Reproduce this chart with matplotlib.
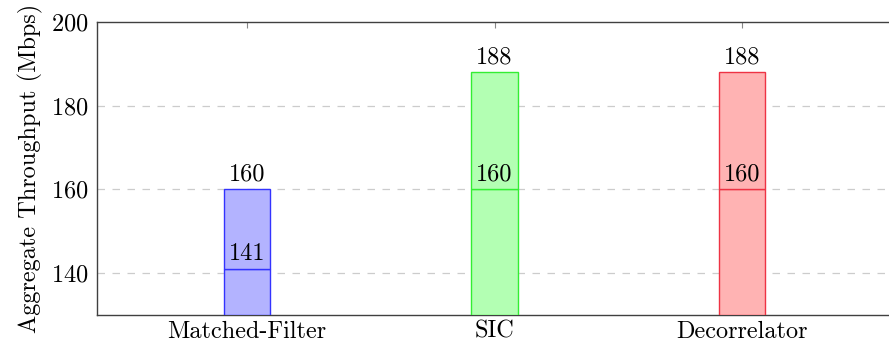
import matplotlib
matplotlib.use("Agg")
import matplotlib.pyplot as plt
import numpy as np

# Aggregate throughput per receiver: value at the inner mark and the bar total
categories = ["Matched-Filter", "SIC", "Decorrelator"]
base_values = [141, 160, 160]
total_values = [160, 188, 188]
fill_colors = ["#b3b3ff", "#b3ffb3", "#ffb3b3"]
edge_colors = ["#3333ff", "#33ee33", "#ee3344"]
y_ticks = [140, 160, 180, 200]

plt.rcParams["font.family"] = ["cmr10", "DejaVu Serif"]
plt.rcParams["axes.formatter.use_mathtext"] = True

FS = 17.5

fig = plt.figure(figsize=(8.89, 3.44), dpi=100)
ax = fig.add_axes([97 / 889, 1 - 315 / 344, (892 - 97) / 889, (315 - 22) / 344])

x = np.arange(len(categories))
width = 0.186
ymin = 130

for i in range(len(categories)):
    ax.bar(x[i], base_values[i] - ymin, bottom=ymin, width=width,
           color=fill_colors[i], edgecolor=edge_colors[i], linewidth=1.0, zorder=3)
    ax.bar(x[i], total_values[i] - base_values[i], bottom=base_values[i], width=width,
           color=fill_colors[i], edgecolor=edge_colors[i], linewidth=1.0, zorder=3)
    ax.annotate(str(base_values[i]), (x[i], base_values[i]), xytext=(0, 2.5),
                textcoords="offset points", ha="center", va="bottom", fontsize=FS, zorder=4)
    ax.annotate(str(total_values[i]), (x[i], total_values[i]), xytext=(0, 2.5),
                textcoords="offset points", ha="center", va="bottom", fontsize=FS, zorder=4)

ax.set_xlim(-0.606, 2.606)
ax.set_ylim(ymin, 200)
ax.set_yticks(y_ticks)
ax.set_xticks(x)
ax.set_xticklabels(categories)
ax.tick_params(axis="both", labelsize=FS)
ax.tick_params(axis="x", direction="in", length=4, top=True, bottom=False, pad=4,
               color="#888888")
ax.tick_params(axis="y", length=0, pad=6)
ax.set_ylabel("Aggregate Throughput (Mbps)", fontsize=FS, labelpad=6)

for yv in y_ticks[:-1]:
    ax.axhline(yv, color="#cccccc", linestyle=(0, (6, 6)), linewidth=0.9, zorder=1)

for s in ax.spines.values():
    s.set_color("#404040")
    s.set_linewidth(1.0)

fig.savefig("out.png", dpi=100)
